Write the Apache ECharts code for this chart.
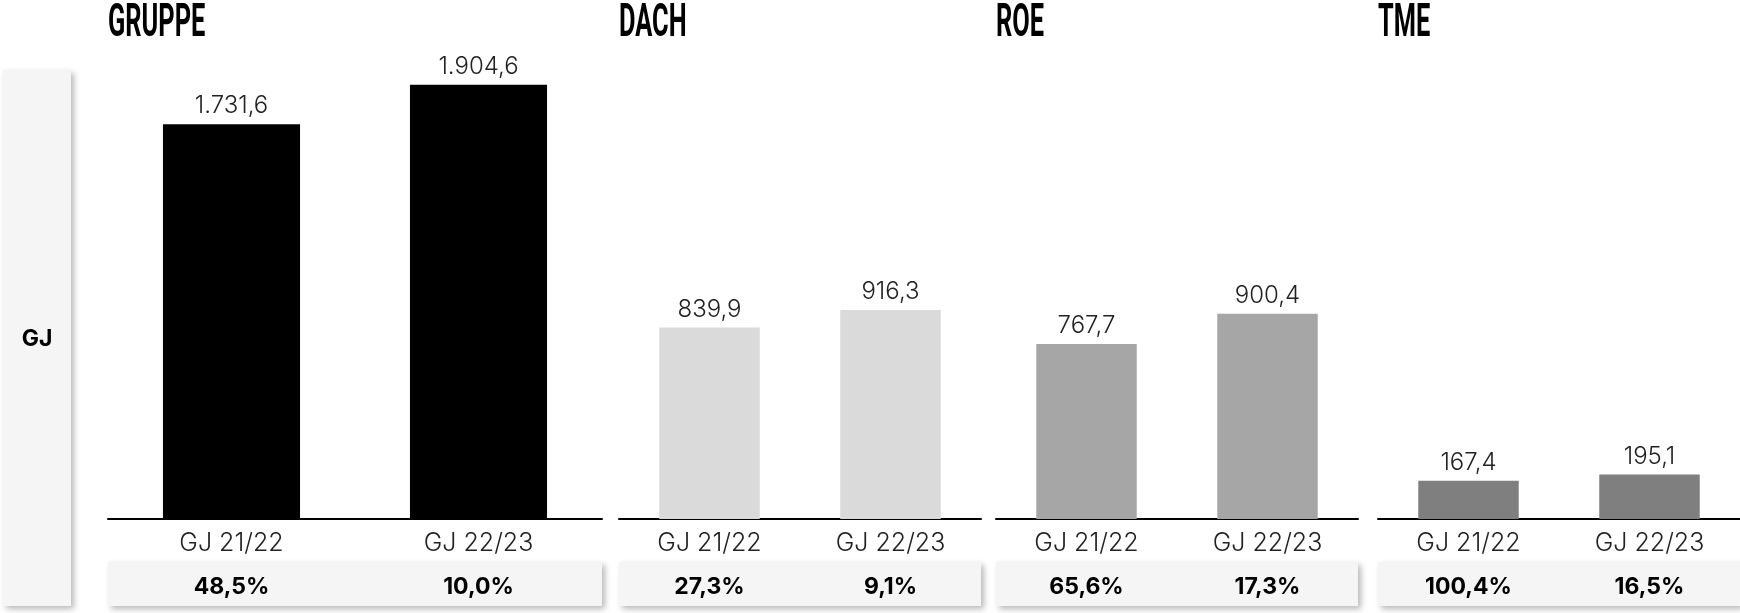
<!DOCTYPE html>
<html>
<head>
<meta charset="utf-8">
<script src="https://cdn.jsdelivr.net/npm/echarts@6/dist/echarts.min.js"></script>
<style>
  html, body { margin: 0; padding: 0; background: #fff; }
  #chart { width: 1740px; height: 613px; }
</style>
</head>
<body>
<div id="chart"></div>
<script>
// Daten
var regions = ['GRUPPE', 'DACH', 'ROE', 'TME'];
var years = ['GJ 21/22', 'GJ 22/23'];
var gruppeValues = [1731.6, 1904.6];
var dachValues = [839.9, 916.3];
var roeValues = [767.7, 900.4];
var tmeValues = [167.4, 195.1];
var gruppeGrowth = ['48,5%', '10,0%'];
var dachGrowth = ['27,3%', '9,1%'];
var roeGrowth = ['65,6%', '17,3%'];
var tmeGrowth = ['100,4%', '16,5%'];

var allValues = [gruppeValues, dachValues, roeValues, tmeValues];
var allGrowth = [gruppeGrowth, dachGrowth, roeGrowth, tmeGrowth];
var barColors = ['#000000', '#dbdadb', '#a6a6a6', '#7f7f7f'];

// Layout
var gridLefts = [108, 619, 996, 1378];
var gridWidths = [494, 362, 362, 362];
var gridTop = 63, gridBottom = 94;
var lightFont = 'Inter, "Open Sans", sans-serif';

function formatDe(v) {
    var parts = v.toFixed(1).split('.');
    var intPart = parts[0].replace(/\B(?=(\d{3})+(?!\d))/g, '.');
    return intPart + ',' + parts[1];
}

var myChart = echarts.init(document.getElementById('chart'));

var grids = [], xAxes = [], yAxes = [], series = [], graphics = [];

for (var i = 0; i < regions.length; i++) {
    grids.push({ left: gridLefts[i], width: gridWidths[i], top: gridTop, bottom: gridBottom });
    // Jahre
    xAxes.push({
        type: 'category', gridIndex: i, data: years,
        axisLine: { lineStyle: { color: '#000', width: 2 } },
        axisTick: { show: false },
        axisLabel: { color: '#222', fontSize: 25, fontWeight: 300, fontFamily: lightFont, margin: 12 }
    });
    // Veränderung in %
    xAxes.push({
        type: 'category', gridIndex: i, data: allGrowth[i], position: 'bottom', offset: 57,
        axisLine: { show: false }, axisTick: { show: false },
        axisLabel: { color: '#000', fontSize: 23, fontWeight: 'bold', fontFamily: lightFont, margin: 0 }
    });
    yAxes.push({ type: 'value', gridIndex: i, min: 0, max: 2000, show: false, splitLine: { show: false } });
    series.push({
        type: 'bar', name: regions[i], xAxisIndex: i * 2, yAxisIndex: i,
        data: allValues[i], barWidth: '55.5%',
        itemStyle: { color: barColors[i] },
        label: {
            show: true, position: 'top', distance: 6,
            color: '#222', fontSize: 24, fontWeight: 300, fontFamily: lightFont,
            formatter: function (p) { return formatDe(p.value); }
        }
    });
    // Box unter den Achsen
    graphics.push({
        type: 'rect', z: -1,
        shape: { x: gridLefts[i], y: 562, width: gridWidths[i], height: 44 },
        style: { fill: '#f5f5f5', shadowBlur: 6, shadowColor: 'rgba(0,0,0,0.28)', shadowOffsetX: 3, shadowOffsetY: 3 }
    });
    // Titel
    graphics.push({
        type: 'text', x: gridLefts[i], y: 24, scaleX: 0.54,
        style: {
            text: regions[i], fill: '#000',
            font: 'bold 47px Roboto, "Liberation Sans", sans-serif',
            align: 'left', verticalAlign: 'middle'
        }
    });
}

// GJ Seitenleiste
graphics.push({
    type: 'rect', z: -1,
    shape: { x: 3, y: 70, width: 68, height: 536 },
    style: { fill: '#f5f5f5', shadowBlur: 6, shadowColor: 'rgba(0,0,0,0.28)', shadowOffsetX: 3, shadowOffsetY: 3 }
});
graphics.push({
    type: 'text', x: 37, y: 339,
    style: { text: 'GJ', fill: '#000', font: 'bold 23px Inter, sans-serif', align: 'center', verticalAlign: 'middle' }
});

var option = {
    backgroundColor: '#fff',
    animation: false,
    grid: grids,
    xAxis: xAxes,
    yAxis: yAxes,
    series: series,
    graphic: graphics
};
myChart.setOption(option);
</script>
</body>
</html>
